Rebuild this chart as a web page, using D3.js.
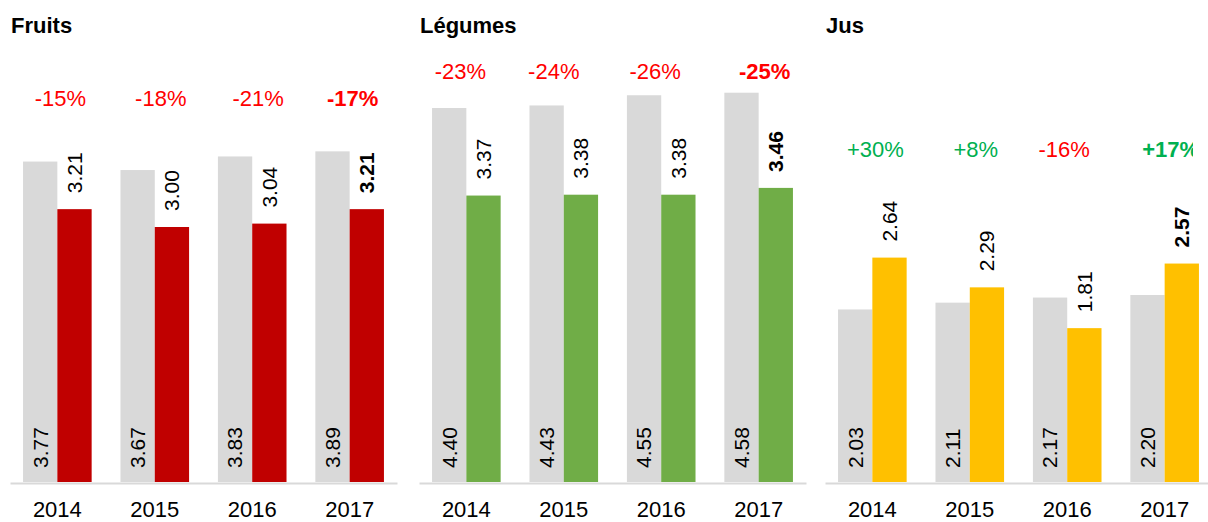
<!DOCTYPE html>
<html>
<head>
<meta charset="utf-8">
<script src="https://cdn.jsdelivr.net/npm/d3@7"></script>
<style>
  body { margin: 0; background: #fff; }
  svg { display: block; font-family: "Liberation Sans", Arial, sans-serif; }
</style>
</head>
<body>
<div id="chart"></div>
<script>
const years = ['2014', '2015', '2016', '2017'];
const categories = ['Fruits', 'Légumes', 'Jus'];

const fruitsPrev = [3.77, 3.67, 3.83, 3.89];
const fruitsCur = [3.21, 3.00, 3.04, 3.21];
const fruitsPct = ['-15%', '-18%', '-21%', '-17%'];

const legumesPrev = [4.40, 4.43, 4.55, 4.58];
const legumesCur = [3.37, 3.38, 3.38, 3.46];
const legumesPct = ['-23%', '-24%', '-26%', '-25%'];

const jusPrev = [2.03, 2.11, 2.17, 2.20];
const jusCur = [2.64, 2.29, 1.81, 2.57];
const jusPct = ['+30%', '+8%', '-16%', '+17%'];

// layout
const svgWidth = 1208;
const svgHeight = 522;
const panelX = [10, 419, 825];
const panelWidth = 387;
const baseY = 482;
const pxPerUnit = 85;
const pctY = [106, 79, 157];
const pctNudge = [[3, 6, 6, 3], [-6, -10, -6, 6], [3, 6, -3, 6]];
const colors = ['#C00000', '#70AD47', '#FFC000'];
const grey = '#D9D9D9';

const panels = [
    { prev: fruitsPrev, cur: fruitsCur, pct: fruitsPct },
    { prev: legumesPrev, cur: legumesCur, pct: legumesPct },
    { prev: jusPrev, cur: jusCur, pct: jusPct }
];

const svg = d3.select('#chart')
    .append('svg')
    .attr('width', svgWidth)
    .attr('height', svgHeight);

svg.append('defs').append('clipPath')
    .attr('id', 'edge')
    .append('rect')
    .attr('x', 0).attr('y', 0)
    .attr('width', 1193).attr('height', svgHeight);

const y = d3.scaleLinear().domain([0, 5]).range([baseY, baseY - 5 * pxPerUnit]);

const x = d3.scaleBand()
    .domain(years)
    .range([0, panelWidth])
    .paddingInner(0.296)
    .paddingOuter(0.134);

const sub = d3.scaleBand()
    .domain(['prev', 'cur'])
    .range([0, x.bandwidth()]);

panels.forEach(function(p, i) {
    const g = svg.append('g')
        .attr('transform', `translate(${panelX[i]},0)`);

    g.append('text')
        .attr('x', 1)
        .attr('y', 33)
        .attr('font-size', 22)
        .attr('font-weight', 'bold')
        .attr('fill', '#000')
        .text(categories[i]);

    const rows = years.map((yr, j) => ({
        year: yr, prev: p.prev[j], cur: p.cur[j], pct: p.pct[j], j: j
    }));

    // grey bars
    g.selectAll('.prev')
        .data(rows)
        .join('rect')
        .attr('class', 'prev')
        .attr('x', d => x(d.year) + sub('prev'))
        .attr('y', d => y(d.prev))
        .attr('width', sub.bandwidth())
        .attr('height', d => y(0) - y(d.prev))
        .attr('fill', grey);

    // coloured bars
    g.selectAll('.cur')
        .data(rows)
        .join('rect')
        .attr('class', 'cur')
        .attr('x', d => x(d.year) + sub('cur'))
        .attr('y', d => y(d.cur))
        .attr('width', sub.bandwidth())
        .attr('height', d => y(0) - y(d.cur))
        .attr('fill', colors[i]);

    // axis
    const axis = g.append('g')
        .attr('transform', `translate(0,${baseY + 1})`)
        .call(d3.axisBottom(x).tickSize(0).tickPadding(18));
    axis.select('.domain')
        .attr('stroke', grey)
        .attr('stroke-width', 2);
    axis.selectAll('text')
        .attr('font-size', 22)
        .attr('font-family', '"Liberation Sans", Arial, sans-serif')
        .attr('fill', '#000');

    // grey values, inside the bar
    g.selectAll('.prevLabel')
        .data(rows)
        .join('text')
        .attr('class', 'prevLabel')
        .attr('transform', d => `translate(${x(d.year) + sub('prev') + sub.bandwidth() / 2},${y(0) - 14}) rotate(-90)`)
        .attr('dy', '0.35em')
        .attr('font-size', 21)
        .attr('fill', '#000')
        .text(d => d.prev.toFixed(2));

    // coloured values, above the bar
    g.selectAll('.curLabel')
        .data(rows)
        .join('text')
        .attr('class', 'curLabel')
        .attr('transform', d => `translate(${x(d.year) + sub('cur') + sub.bandwidth() / 2},${y(d.cur) - 16}) rotate(-90)`)
        .attr('dy', '0.35em')
        .attr('font-size', 21)
        .attr('font-weight', d => d.j === 3 ? 'bold' : 'normal')
        .attr('fill', '#000')
        .text(d => d.cur.toFixed(2));

    // percentage change
    const pctG = g.append('g');
    if (i === 2) pctG.attr('clip-path', 'url(#edge)').attr('transform', `translate(${-panelX[i]},0)`);
    pctG.selectAll('.pct')
        .data(rows)
        .join('text')
        .attr('class', 'pct')
        .attr('x', d => (i === 2 ? panelX[i] : 0) + x(d.year) + x.bandwidth() / 2 + pctNudge[i][d.j])
        .attr('y', pctY[i])
        .attr('text-anchor', 'middle')
        .attr('font-size', 22)
        .attr('font-weight', d => d.j === 3 ? 'bold' : 'normal')
        .attr('fill', d => d.pct.startsWith('+') ? '#00B050' : '#FF0000')
        .text(d => d.pct);
});
</script>
</body>
</html>
